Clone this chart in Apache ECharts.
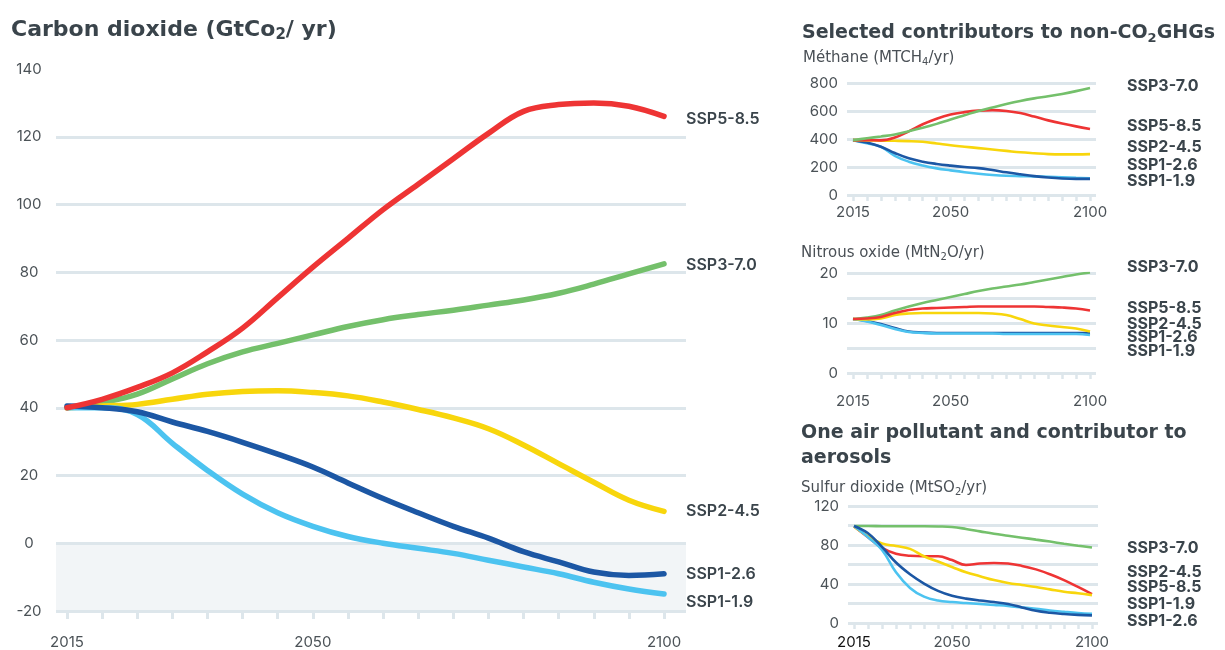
<!DOCTYPE html>
<html>
<head>
<meta charset="utf-8">
<script src="https://cdn.jsdelivr.net/npm/echarts@6/dist/echarts.min.js"></script>
<style>
html, body { margin: 0; padding: 0; background: #fff; }
#chart { width: 1225px; height: 650px; }
</style>
</head>
<body>
<div id="chart"></div>
<script>
// years shared by every panel
const years = [2015, 2020, 2025, 2030, 2035, 2040, 2045, 2050, 2055, 2060, 2065, 2070, 2075, 2080, 2085, 2090, 2095, 2100];

// Carbon dioxide (GtCO2/yr)
const co2_ssp119 = [40, 40, 38, 29.5, 21.5, 14.5, 9, 5, 2, 0, -1.5, -3, -5, -7, -9, -11.5, -13.5, -15];
const co2_ssp126 = [40.5, 40, 38.8, 35.8, 33, 29.8, 26.3, 22.5, 17.8, 13.2, 9, 5, 1.5, -2.5, -5.5, -8.5, -9.5, -9];
const co2_ssp245 = [40, 40.5, 41, 42.5, 44, 44.8, 45, 44.5, 43.5, 41.7, 39.5, 37, 33.8, 29, 23.5, 18, 12.7, 9.4];
const co2_ssp370 = [40, 41.5, 44, 48.5, 53, 56.5, 59, 61.5, 64, 66, 67.5, 68.8, 70.3, 71.8, 73.8, 76.5, 79.5, 82.5];
const co2_ssp585 = [40, 42.5, 46, 50.3, 56.5, 63.5, 72.5, 81.5, 90, 98.5, 106, 113.5, 121, 127.5, 129.5, 130, 129, 126];

// Methane (MtCH4/yr)
const ch4_ssp119 = [392, 370, 345, 280, 238, 210, 190, 176, 163, 152, 143, 137, 135, 133, 130, 126, 122, 119];
const ch4_ssp126 = [392, 375, 345, 300, 262, 238, 222, 210, 200, 192, 178, 162, 148, 135, 125, 118, 115, 115];
const ch4_ssp245 = [392, 390, 388, 387, 385, 380, 368, 355, 345, 335, 325, 315, 305, 298, 292, 290, 290, 292];
const ch4_ssp370 = [392, 405, 418, 432, 455, 480, 508, 540, 570, 600, 625, 650, 672, 690, 705, 722, 742, 765];
const ch4_ssp585 = [392, 392, 390, 410, 455, 505, 545, 575, 592, 603, 606, 600, 585, 560, 533, 510, 490, 472];

// Nitrous oxide (MtN2O/yr)
const n2o_ssp119 = [10.8, 10.3, 9.6, 8.8, 8.2, 8, 7.9, 7.9, 7.9, 7.9, 7.9, 7.8, 7.8, 7.8, 7.8, 7.8, 7.8, 7.6];
const n2o_ssp126 = [10.8, 10.4, 9.8, 9, 8.3, 8.1, 8, 8, 8, 8, 8, 8, 8, 8, 8, 8, 8, 8];
const n2o_ssp245 = [10.8, 10.7, 10.9, 11.6, 11.9, 12, 12, 12, 12, 12, 11.9, 11.6, 10.8, 9.9, 9.5, 9.2, 8.9, 8.3];
const n2o_ssp370 = [10.8, 11.1, 11.6, 12.5, 13.3, 14, 14.6, 15.2, 15.8, 16.4, 16.9, 17.3, 17.7, 18.2, 18.7, 19.2, 19.7, 20.1];
const n2o_ssp585 = [10.8, 10.9, 11.2, 12, 12.6, 12.9, 13, 13.1, 13.2, 13.3, 13.3, 13.3, 13.3, 13.3, 13.2, 13.1, 12.9, 12.5];

// Sulfur dioxide (MtSO2/yr)
const so2_ssp119 = [99.5, 88, 75, 52, 36, 27, 23, 21.5, 20.5, 19.5, 18.5, 17.5, 16, 14.5, 12.8, 11.5, 10.3, 9.4];
const so2_ssp126 = [99.5, 92, 78, 62, 50, 40.5, 33, 28, 25, 23, 21.5, 19.5, 16, 12.5, 10.5, 9.2, 8.3, 7.8];
const so2_ssp245 = [99, 89, 81.5, 79, 76, 68.5, 63, 57.5, 52, 48, 44, 41, 39, 37, 34.5, 32, 30.5, 28.6];
const so2_ssp370 = [99.5, 99.5, 99.3, 99.2, 99.2, 99.2, 99, 98.5, 96.5, 94, 91.5, 89.5, 87.5, 85.5, 83.5, 81.3, 79.3, 77.5];
const so2_ssp585 = [99, 88, 77, 71, 69, 68.5, 68.5, 64.5, 59.5, 61, 61.5, 61, 58.5, 55, 50, 44, 37, 29.7];

// tick labels
const mainYearLabels = [2015, 2050, 2100];
const smallYearLabels = [2015, 2050, 2100];
const n2oLabels = [0, 10, 20];
const so2Labels = [0, 40, 80, 120];

// right-hand label order of each small panel (top to bottom)
const ch4Order = ['SSP3-7.0', 'SSP5-8.5', 'SSP2-4.5', 'SSP1-2.6', 'SSP1-1.9'];
const n2oOrder = ['SSP3-7.0', 'SSP5-8.5', 'SSP2-4.5', 'SSP1-2.6', 'SSP1-1.9'];
const so2Order = ['SSP3-7.0', 'SSP2-4.5', 'SSP5-8.5', 'SSP1-1.9', 'SSP1-2.6'];

const COLORS = {
  'SSP1-1.9': '#4cc3f0',
  'SSP1-2.6': '#1c57a4',
  'SSP2-4.5': '#f8d60c',
  'SSP3-7.0': '#74c06b',
  'SSP5-8.5': '#ee3434'
};
const GRID_LINE = '#dde6eb';
const TEXT = '#3a444b';
const AXIS_TEXT = '#4b5257';
const FONT = 'Inter, "Noto Sans", sans-serif';
const TITLE_FONT = '"DejaVu Sans", sans-serif';

const chart = echarts.init(document.getElementById('chart'));

function pairs(vals) {
  return years.map((y, i) => [y, vals[i]]);
}
function tickYears() {
  const t = [];
  for (let y = years[0]; y <= years[years.length - 1]; y += 5) t.push(y);
  return t;
}

// 主图 + 三个小图
const grids = [
  { left: 56, top: 69, width: 630, height: 542 },
  { left: 847, top: 83, width: 249, height: 112 },
  { left: 847, top: 273, width: 249, height: 100 },
  { left: 848, top: 506, width: 250, height: 118 }
];

function smallX(gridIndex, margin, labelColor) {
  return {
    type: 'value', gridIndex: gridIndex, min: 2012.85, max: 2102.15,
    splitLine: { show: false },
    axisLine: { show: false, onZero: false },
    axisTick: { show: true, customValues: tickYears(), length: 6, lineStyle: { color: GRID_LINE, width: 2.5 } },
    axisLabel: {
      customValues: smallYearLabels, margin: margin, fontSize: 15, fontFamily: FONT,
      color: labelColor || AXIS_TEXT, verticalAlign: 'top', formatter: v => String(v)
    }
  };
}
function smallY(gridIndex, max, interval, labels) {
  return {
    type: 'value', gridIndex: gridIndex, min: 0, max: max, interval: interval,
    axisLine: { show: false }, axisTick: { show: false },
    splitLine: { show: true, lineStyle: { color: GRID_LINE, width: 3 } },
    axisLabel: {
      margin: 9, fontSize: 15, fontFamily: FONT, color: AXIS_TEXT,
      formatter: v => (labels && labels.indexOf(v) < 0) ? '' : String(v)
    }
  };
}

const xAxes = [
  {
    type: 'value', gridIndex: 0, min: 2013.43, max: 2103.13,
    splitLine: { show: false },
    axisLine: { show: false, onZero: false },
    axisTick: { show: true, customValues: tickYears(), length: 8, lineStyle: { color: GRID_LINE, width: 3 } },
    axisLabel: {
      customValues: mainYearLabels, margin: 24, fontSize: 15, fontFamily: FONT,
      color: AXIS_TEXT, verticalAlign: 'top', formatter: v => String(v)
    }
  },
  smallX(1, 10),
  smallX(2, 21),
  smallX(3, 12, v => (String(v) === '2015' ? '#111111' : AXIS_TEXT))
];

const yAxes = [
  {
    type: 'value', gridIndex: 0, min: -20, max: 140, interval: 20,
    axisLine: { show: false }, axisTick: { show: false },
    splitLine: { show: true, showMaxLine: false, lineStyle: { color: GRID_LINE, width: 3 } },
    splitArea: { show: true, areaStyle: { color: ['#f2f5f7', 'rgba(0,0,0,0)', 'rgba(0,0,0,0)', 'rgba(0,0,0,0)', 'rgba(0,0,0,0)', 'rgba(0,0,0,0)', 'rgba(0,0,0,0)', 'rgba(0,0,0,0)'] } },
    axisLabel: { margin: 27, align: 'center', fontSize: 15, fontFamily: FONT, color: AXIS_TEXT }
  },
  smallY(1, 800, 200, null),
  smallY(2, 20, 5, n2oLabels),
  smallY(3, 120, 20, so2Labels)
];

// main chart end-label vertical nudges
const mainLabelOffset = { 'SSP5-8.5': 3, 'SSP3-7.0': 1, 'SSP2-4.5': 0, 'SSP1-2.6': 0, 'SSP1-1.9': 8 };

function mainSeries(name, vals) {
  return {
    name: name, type: 'line', xAxisIndex: 0, yAxisIndex: 0,
    data: pairs(vals), smooth: 0.4, symbol: 'none',
    lineStyle: { color: COLORS[name], width: 5.5, cap: 'round' },
    endLabel: {
      show: true, formatter: name, distance: 22, offset: [0, mainLabelOffset[name]],
      fontSize: 16, fontWeight: 600, fontFamily: FONT, color: TEXT
    }
  };
}
function smallSeries(idx, name, vals) {
  return {
    name: name, type: 'line', xAxisIndex: idx, yAxisIndex: idx,
    data: pairs(vals), smooth: 0.4, symbol: 'none',
    lineStyle: { color: COLORS[name], width: 2.6 }
  };
}

const series = [
  mainSeries('SSP3-7.0', co2_ssp370),
  mainSeries('SSP2-4.5', co2_ssp245),
  mainSeries('SSP1-1.9', co2_ssp119),
  mainSeries('SSP1-2.6', co2_ssp126),
  mainSeries('SSP5-8.5', co2_ssp585),

  smallSeries(1, 'SSP1-1.9', ch4_ssp119),
  smallSeries(1, 'SSP1-2.6', ch4_ssp126),
  smallSeries(1, 'SSP2-4.5', ch4_ssp245),
  smallSeries(1, 'SSP5-8.5', ch4_ssp585),
  smallSeries(1, 'SSP3-7.0', ch4_ssp370),

  smallSeries(2, 'SSP1-2.6', n2o_ssp126),
  smallSeries(2, 'SSP1-1.9', n2o_ssp119),
  smallSeries(2, 'SSP3-7.0', n2o_ssp370),
  smallSeries(2, 'SSP2-4.5', n2o_ssp245),
  smallSeries(2, 'SSP5-8.5', n2o_ssp585),

  smallSeries(3, 'SSP3-7.0', so2_ssp370),
  smallSeries(3, 'SSP5-8.5', so2_ssp585),
  smallSeries(3, 'SSP2-4.5', so2_ssp245),
  smallSeries(3, 'SSP1-1.9', so2_ssp119),
  smallSeries(3, 'SSP1-2.6', so2_ssp126)
];

// right-hand scenario labels of the small panels
const labelYs = {
  ch4: [88, 128, 149, 167, 183],
  n2o: [269, 310, 326, 339, 353],
  so2: [550, 574, 589, 606, 623]
};
const graphics = [];
[['ch4', ch4Order], ['n2o', n2oOrder], ['so2', so2Order]].forEach(([k, order]) => {
  order.forEach((name, i) => {
    graphics.push({
      type: 'text', left: 1127, top: labelYs[k][i] - 10,
      style: { text: name, font: 'bold 16px ' + FONT, fill: TEXT }
    });
  });
});

function titleStyle(size, bold) {
  const color = bold ? TEXT : '#4a5056';
  const weight = bold ? 'bold' : 'normal';
  const subSize = Math.round(size * 0.66);
  return {
    fontSize: size, fontWeight: weight, fontFamily: TITLE_FONT, color: color,
    rich: {
      t: { fontSize: size, fontWeight: weight, fontFamily: TITLE_FONT, color: color },
      s: { fontSize: subSize, fontWeight: weight, fontFamily: TITLE_FONT, color: color, padding: [Math.round(size * 0.5), 0, 0, 0] }
    }
  };
}

chart.setOption({
  animation: false,
  textStyle: { fontFamily: FONT },
  title: [
    { text: '{t|Carbon dioxide (GtCo}{s|2}{t|/ yr)}', left: 11, top: 17, padding: 0, textStyle: titleStyle(22, true) },
    { text: '{t|Selected contributors to non-CO}{s|2}{t|GHGs}', left: 802, top: 22, padding: 0, textStyle: titleStyle(19, true) },
    { text: '{t|Méthane (MTCH}{s|4}{t|/yr)}', left: 803, top: 49, padding: 0, textStyle: titleStyle(15, false) },
    { text: '{t|Nitrous oxide (MtN}{s|2}{t|O/yr)}', left: 801, top: 244, padding: 0, textStyle: titleStyle(15, false) },
    { text: 'One air pollutant and contributor to\naerosols', left: 801, top: 421, padding: 0, textStyle: { fontSize: 19, fontWeight: 'bold', fontFamily: TITLE_FONT, color: TEXT, lineHeight: 25 } },
    { text: '{t|Sulfur dioxide (MtSO}{s|2}{t|/yr)}', left: 801, top: 479, padding: 0, textStyle: titleStyle(15, false) }
  ],
  grid: grids,
  xAxis: xAxes,
  yAxis: yAxes,
  series: series,
  graphic: graphics
});
</script>
</body>
</html>
